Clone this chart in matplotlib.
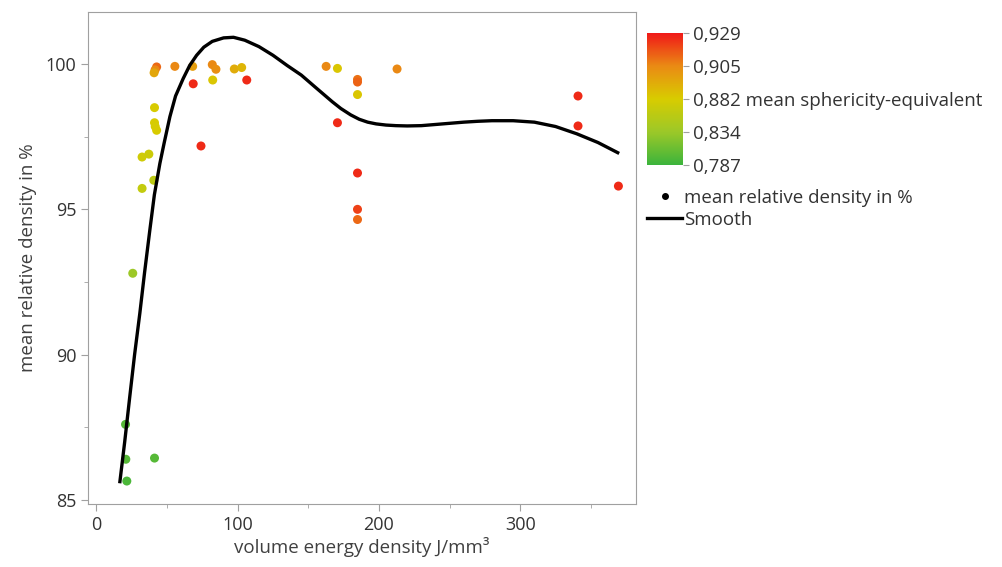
import numpy as np
import matplotlib
matplotlib.use("Agg")
import matplotlib.pyplot as plt
from matplotlib.colors import LinearSegmentedColormap, FuncNorm
from matplotlib.lines import Line2D

plt.rcParams["font.family"] = ["Open Sans", "DejaVu Sans"]

# measured points: energy density, relative density, sphericity
energy = [42.6, 41.5, 40.8, 55.5, 68.1, 82.0, 84.6, 97.6, 102.8,
          68.5, 82.3, 106.4, 41.1, 41.1, 41.6, 42.6, 74.0,
          32.3, 37.1, 40.6, 32.3, 25.7, 20.6, 20.8, 41.1, 21.5,
          162.6, 170.6, 184.8, 184.8, 184.8, 212.8, 170.6,
          184.8, 184.8, 184.8, 340.9, 340.9, 369.5]
density = [99.90, 99.80, 99.70, 99.92, 99.92, 99.98, 99.82, 99.83, 99.88,
           99.32, 99.45, 99.45, 98.50, 97.98, 97.85, 97.72, 97.18,
           96.80, 96.90, 96.00, 95.72, 92.80, 87.60, 86.40, 86.44, 85.65,
           99.92, 99.85, 99.47, 99.38, 98.95, 99.83, 97.98,
           96.25, 95.00, 94.65, 98.90, 97.87, 95.80]
sphericity = [0.912, 0.905, 0.895, 0.905, 0.898, 0.905, 0.903, 0.893, 0.890,
              0.925, 0.884, 0.925, 0.882, 0.882, 0.880, 0.882, 0.925,
              0.875, 0.872, 0.860, 0.865, 0.835, 0.800, 0.800, 0.800, 0.795,
              0.905, 0.884, 0.910, 0.913, 0.884, 0.905, 0.925,
              0.925, 0.920, 0.912, 0.925, 0.925, 0.925]

# smooth curve
smooth_x = [16.6, 20, 23.6, 27, 30.7, 34, 37.8, 41, 44.9, 48, 52, 56, 61.4, 66,
            70.9, 76, 82, 90, 97, 105, 115, 125, 135, 145, 155, 161, 167, 173,
            180, 186, 192, 198, 205, 212, 220, 230, 240, 250, 260, 270, 280,
            295, 310, 325, 340, 355, 369]
smooth_y = [85.63, 87.0, 88.56, 90.0, 91.42, 92.8, 94.29, 95.5, 96.58, 97.3,
            98.19, 98.9, 99.5, 99.95, 100.3, 100.58, 100.78, 100.9, 100.92,
            100.82, 100.6, 100.3, 99.95, 99.62, 99.2, 98.95, 98.7, 98.47,
            98.25, 98.1, 98.0, 97.94, 97.9, 97.88, 97.87, 97.88, 97.92, 97.96,
            98.0, 98.03, 98.05, 98.05, 98.0, 97.85, 97.6, 97.3, 96.95]

cbar_ticks = [0.787, 0.834, 0.882, 0.905, 0.929]
cbar_labels = ["0,787", "0,834", "0,882 mean sphericity-equivalent", "0,905", "0,929"]

cmap = LinearSegmentedColormap.from_list(
    "gyr", ["#3cb43c", "#9cc828", "#d8cc00", "#ea8a14", "#f01818"])
pos = [0, 0.25, 0.5, 0.75, 1]
norm = FuncNorm((lambda v: np.interp(v, cbar_ticks, pos),
                 lambda p: np.interp(p, pos, cbar_ticks)),
                vmin=cbar_ticks[0], vmax=cbar_ticks[-1])

fig = plt.figure(figsize=(10.02, 5.67), dpi=100)
ax = fig.add_axes([0.0878, 0.1111, 0.547, 0.8677])

ax.scatter(energy, density, c=sphericity, cmap=cmap, norm=norm, s=42,
           edgecolors="none", zorder=2)
ax.plot(smooth_x, smooth_y, color="black", lw=2.4, zorder=3,
        solid_joinstyle="round")

ax.set_xlim(-6, 382)
ax.set_ylim(84.86, 101.79)
ax.set_xticks([0, 100, 200, 300])
ax.set_xticks([50, 150, 250, 350], minor=True)
ax.set_yticks([85, 90, 95, 100])
ax.set_yticks([87.5, 92.5, 97.5], minor=True)
for s in ax.spines.values():
    s.set_color("#a0a0a0")
ax.tick_params(which="both", colors="#a0a0a0", labelcolor="#333333",
               labelsize=13, length=5)
ax.tick_params(which="minor", length=3)
ax.set_xlabel("volume energy density J/mm³", fontsize=13.5, color="#404040",
              labelpad=2)
ax.set_ylabel("mean relative density in %", fontsize=13.5, color="#404040",
              labelpad=6)

cax = fig.add_axes([0.6457, 0.709, 0.036, 0.233])
sm = plt.cm.ScalarMappable(norm=norm, cmap=cmap)
cb = fig.colorbar(sm, cax=cax, ticks=cbar_ticks)
cb.ax.set_yticklabels(cbar_labels)
cb.outline.set_visible(False)
cb.ax.tick_params(colors="#a0a0a0", labelcolor="#333333", labelsize=13.5,
                  length=4)
cb.ax.minorticks_off()

handles = [Line2D([], [], marker="o", color="black", ls="none", markersize=4),
           Line2D([], [], color="black", lw=2.4)]
fig.legend(handles, ["mean relative density in %", "Smooth"],
           loc="upper left", bbox_to_anchor=(0.638, 0.68), frameon=False,
           fontsize=13.5, handlelength=1.9, handletextpad=0.1,
           labelspacing=0.2, borderaxespad=0, labelcolor="#333333")

fig.savefig("out.png", dpi=100)
